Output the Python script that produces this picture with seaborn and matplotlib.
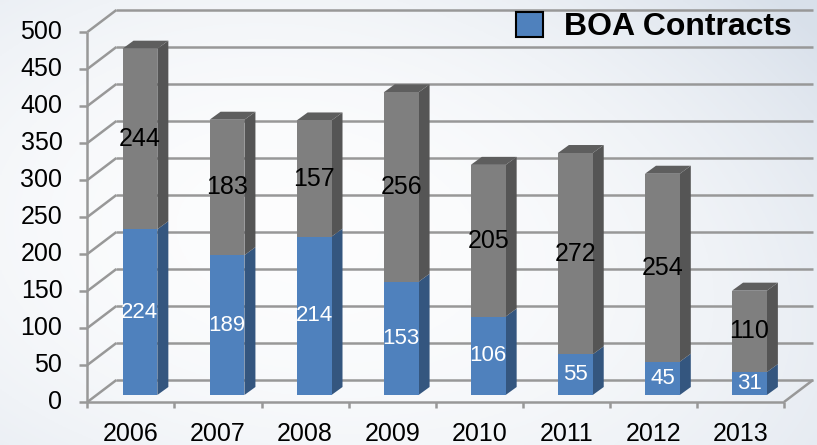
import numpy as np
import pandas as pd
import matplotlib
matplotlib.use("Agg")
import matplotlib.pyplot as plt
from matplotlib.patches import Polygon, Patch
import seaborn as sns

# --- 데이터 ---
years = ["2006", "2007", "2008", "2009", "2010", "2011", "2012", "2013"]
boa = [224, 189, 214, 153, 106, 55, 45, 31]
other = [244, 183, 157, 256, 205, 272, 254, 110]
y_ticks = list(range(0, 501, 50))

df = pd.DataFrame({"year": years, "boa": boa, "other": other})
df["total"] = df["boa"] + df["other"]

# --- 색상 ---
BLUE, BLUE_SIDE = "#4F81BD", "#34567F"
GRAY, GRAY_SIDE, GRAY_TOP = "#7F7F7F", "#555555", "#5E5E5E"
GRID = "#989898"

sns.set_theme(style="white")
plt.rcParams["font.family"] = ["Liberation Sans", "DejaVu Sans"]
plt.rcParams["text.color"] = "black"

W, H = 817, 445
fig = plt.figure(figsize=(W / 100, H / 100), dpi=100)

# 배경 그라데이션 (왼쪽 흰색 -> 오른쪽 위 푸른 회색)
bg = fig.add_axes([0, 0, 1, 1], zorder=-2)
yy, xx = np.mgrid[1:-1:200j, -1:1:360j]
t = 0.25 * (xx ** 2 + yy ** 2) + 0.6 * ((xx + 1) / 2) ** 2 * ((yy + 1.6) / 2.6)
t = np.clip(t, 0, 1)
edge = np.array([0.85, 0.88, 0.92])
img = (1 - t)[..., None] * np.ones(3) + t[..., None] * edge
bg.imshow(img, aspect="auto", extent=[0, 1, 0, 1])
bg.axis("off")

# 막대 앞면 평면 기준 축
left_px, right_px, base_px, top_px = 96.4, 793.0, 395.0, 25.0
ax = fig.add_axes([left_px / W, (H - base_px) / H,
                   (right_px - left_px) / W, (base_px - top_px) / H])
ax.set_facecolor("none")

px_x = 8 / (right_px - left_px)
px_y = 500 / (base_px - top_px)


def shift(x, y, off):
    return x + off[0] * px_x, y + off[1] * px_y


FRONT = (-9, -7)
BACK = (20, 15)
DEPTH = (11, 8)

line_kw = dict(color=GRID, lw=1.8, clip_on=False, zorder=0, solid_capstyle="butt")

# 뒷벽 격자선 + 왼쪽 사선
for v in y_ticks:
    bx0, by = shift(-0.5, v, BACK)
    bx1, _ = shift(7.5, v, BACK)
    ax.plot([bx0, bx1], [by, by], **line_kw)
    fx, fy = shift(-0.5, v, FRONT)
    ax.plot([fx, bx0], [fy, by], **line_kw)
    # 눈금 + 라벨
    ax.plot([fx - 8 * px_x, fx], [fy, fy], **line_kw)
    ax.text(fx - 25 * px_x, fy, str(v), ha="right", va="center",
            fontsize=18, color="black")

# 바닥 앞선, 오른쪽 사선, 앞쪽 세로축
fx0, fy0 = shift(-0.5, 0, FRONT)
fx1, _ = shift(7.5, 0, FRONT)
bx1, by0 = shift(7.5, 0, BACK)
fx_top, fy_top = shift(-0.5, 500, FRONT)
ax.plot([fx0, fx1], [fy0, fy0], **line_kw)
ax.plot([fx1, bx1], [fy0, by0], **line_kw)
ax.plot([fx0, fx_top], [fy0, fy_top], **line_kw)

for k in range(len(years) + 1):
    tx, ty = shift(k - 0.5, 0, FRONT)
    ax.plot([tx, tx], [ty, ty - 6 * px_y], **line_kw)
for i, yr in enumerate(years):
    lx, ly = shift(i, 0, FRONT)
    ax.text(lx, ly - 32 * px_y, yr, ha="center", va="center",
            fontsize=18, color="black")

# --- 막대 ---
sns.barplot(data=df, x="year", y="total", color=GRAY, width=0.4,
            saturation=1, linewidth=0, ax=ax, zorder=3)
sns.barplot(data=df, x="year", y="boa", color=BLUE, width=0.4,
            saturation=1, linewidth=0, ax=ax, zorder=4)

n = len(years)
gray_bars = ax.patches[:n]
blue_bars = ax.patches[n:2 * n]

for gp, bp in zip(gray_bars, blue_bars):
    x0 = gp.get_x()
    x1 = x0 + gp.get_width()
    tot = gp.get_height()
    b = bp.get_height()
    dx, dy = DEPTH[0] * px_x, DEPTH[1] * px_y
    ax.add_patch(Polygon([(x1, 0), (x1 + dx, dy), (x1 + dx, b + dy), (x1, b)],
                         closed=True, fc=BLUE_SIDE, ec="none", zorder=2))
    ax.add_patch(Polygon([(x1, b), (x1 + dx, b + dy), (x1 + dx, tot + dy), (x1, tot)],
                         closed=True, fc=GRAY_SIDE, ec="none", zorder=2))
    ax.add_patch(Polygon([(x0, tot), (x0 + dx, tot + dy), (x1 + dx, tot + dy), (x1, tot)],
                         closed=True, fc=GRAY_TOP, ec="none", zorder=2))

# 값 라벨
for i in range(n):
    ax.text(i, boa[i] / 2, str(boa[i]), ha="center", va="center",
            fontsize=16, color="white", zorder=6)
    ax.text(i, boa[i] + other[i] / 2, str(other[i]), ha="center", va="center",
            fontsize=18, color="black", zorder=6)

ax.set_xlim(-0.5, 7.5)
ax.set_ylim(0, 500)
ax.axis("off")

# 범례
handles = [Patch(facecolor=BLUE, edgecolor="black", linewidth=1.5)]
fig.legend(handles, ["BOA Contracts"], loc="center left",
           bbox_to_anchor=(516 / W, 1 - 27 / H), frameon=False,
           prop=dict(size=23, weight="bold"), handlelength=0.85,
           handleheight=0.85, handletextpad=0.65, borderpad=0, borderaxespad=0)

fig.savefig("out.png", dpi=100)
